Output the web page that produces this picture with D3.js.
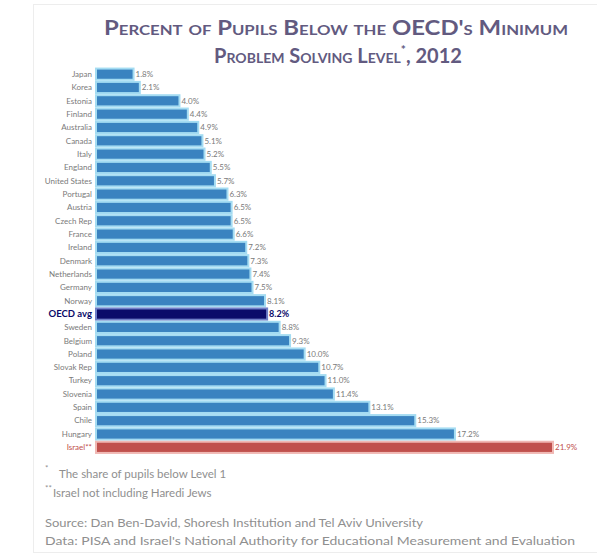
<!DOCTYPE html>
<html><head><meta charset="utf-8">
<script src="https://cdn.jsdelivr.net/npm/d3@7"></script>
<style>body{margin:0;background:#fff;}svg{display:block;}</style>
</head><body>
<script>
const countries = ["Japan","Korea","Estonia","Finland","Australia","Canada","Italy","England","United States","Portugal","Austria","Czech Rep","France","Ireland","Denmark","Netherlands","Germany","Norway","OECD avg","Sweden","Belgium","Poland","Slovak Rep","Turkey","Slovenia","Spain","Chile","Hungary","Israel**"];
const values = [1.8,2.1,4.0,4.4,4.9,5.1,5.2,5.5,5.7,6.3,6.5,6.5,6.6,7.2,7.3,7.4,7.5,8.1,8.2,8.8,9.3,10.0,10.7,11.0,11.4,13.1,15.3,17.2,21.9];
const titleLines = ["Percent of Pupils Below the OECD's Minimum","Problem Solving Level"];
const notes = ["The share of pupils below Level 1","Israel not including Haredi Jews"];
const sources = ["Source: Dan Ben-David, Shoresh Institution and Tel Aviv University","Data: PISA and Israel's National Authority for Educational Measurement and Evaluation"];

const W=597,H=559;
const svg=d3.select("body").append("svg").attr("width",W).attr("height",H);
svg.append("rect").attr("x",33.5).attr("y",4.5).attr("width",570).attr("height",548).attr("fill","none").attr("stroke","#ededed");

const tc="#625a80";
svg.append("text").attr("x",336).attr("y",35).attr("text-anchor","middle").attr("fill",tc)
 .style("font-family","Lato").style("font-size","20px").style("font-variant","small-caps").style("font-weight","bold")
 .attr("textLength",464).attr("lengthAdjust","spacingAndGlyphs").text(titleLines[0]);
const t2=svg.append("text").attr("x",338).attr("y",63).attr("text-anchor","middle").attr("fill",tc)
 .style("font-family","Lato").style("font-size","20px").style("font-weight","bold");
t2.append("tspan").style("font-variant","small-caps").text(titleLines[1]);
t2.append("tspan").attr("dy",-9).style("font-size","12px").text("*");
t2.append("tspan").attr("dy",9).text(", 2012");

const x=d3.scaleLinear().domain([0,21.9]).range([96,553]);
const y=d3.scaleBand().domain(countries).range([67.5,454]).paddingInner(0.16).paddingOuter(0.08);

const col=c=>c==="OECD avg"?"#0b0b6a":(c==="Israel**"?"#c0504d":"#3a83c0");
const edge=c=>c==="OECD avg"?"#6f7fc8":(c==="Israel**"?"#f0b8b4":"#a4dcf2");

const g=svg.append("g");
g.selectAll("rect.bar").data(countries).join("rect").attr("class","bar")
 .attr("x",x(0)).attr("y",c=>y(c)).attr("width",(c,i)=>x(values[i])-x(0)).attr("height",y.bandwidth())
 .attr("fill",col).attr("stroke",edge).attr("stroke-width",2);

g.selectAll("text.cat").data(countries).join("text").attr("class","cat")
 .attr("x",92).attr("y",c=>y(c)+y.bandwidth()/2).attr("dy","0.35em").attr("text-anchor","end")
 .style("font-family","Lato").style("font-size",c=>c==="OECD avg"?"9.5px":"8px")
 .style("font-weight",c=>c==="OECD avg"?"bold":"normal")
 .attr("fill",c=>c==="OECD avg"?"#0b0b6a":(c==="Israel**"?"#c0504d":"#7a7a7a")).text(c=>c);

g.selectAll("text.val").data(countries).join("text").attr("class","val")
 .attr("x",(c,i)=>x(values[i])+2).attr("y",c=>y(c)+y.bandwidth()/2).attr("dy","0.35em")
 .style("font-family","Lato").style("font-size",c=>c==="OECD avg"?"9px":"8px")
 .style("font-weight",c=>c==="OECD avg"?"bold":"normal")
 .attr("fill",c=>c==="OECD avg"?"#0b0b6a":(c==="Israel**"?"#c0504d":"#7a7a7a"))
 .text((c,i)=>values[i].toFixed(1)+"%");

const fc="#8f8f8f";
svg.append("text").attr("x",45).attr("y",471).attr("fill",fc).style("font-family","Lato").style("font-size","8px").text("*");
svg.append("text").attr("x",59).attr("y",478).attr("fill",fc).style("font-family","Lato").style("font-size","11.5px").text(notes[0]);
svg.append("text").attr("x",45).attr("y",491).attr("fill",fc).style("font-family","Lato").style("font-size","8px").text("**");
svg.append("text").attr("x",53).attr("y",497).attr("fill",fc).style("font-family","Lato").style("font-size","11.5px").text(notes[1]);
svg.append("text").attr("x",45).attr("y",527).attr("fill",fc).style("font-family","Lato").style("font-size","11px")
 .attr("textLength",378).attr("lengthAdjust","spacingAndGlyphs").text(sources[0]);
svg.append("text").attr("x",45).attr("y",545).attr("fill",fc).style("font-family","Lato").style("font-size","11px")
 .attr("textLength",530).attr("lengthAdjust","spacingAndGlyphs").text(sources[1]);
</script>
</body></html>
